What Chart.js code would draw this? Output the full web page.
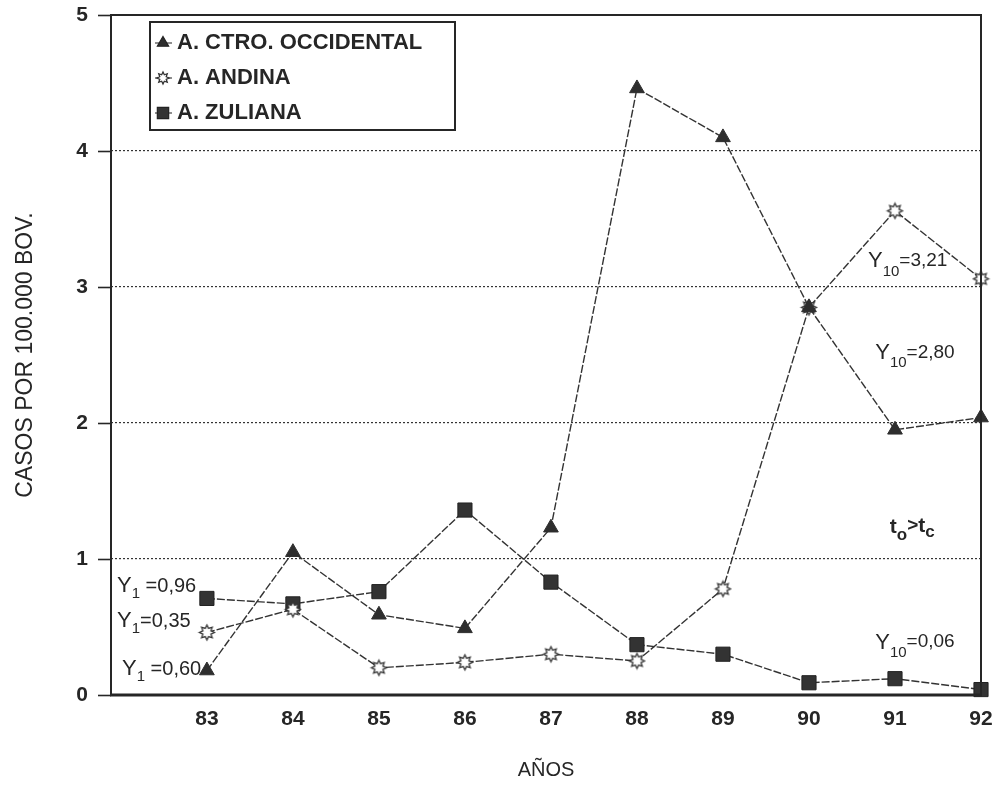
<!DOCTYPE html>
<html>
<head>
<meta charset="utf-8">
<script src="https://cdn.jsdelivr.net/npm/chart.js@4.4.1/dist/chart.umd.min.js"></script>
<style>
  html, body { margin: 0; padding: 0; background: #fff; }
  #wrap { width: 1003px; height: 785px; position: relative; }
</style>
</head>
<body>
<div id="wrap"><canvas id="c" width="1003" height="785"></canvas></div>
<script>
// Casos por 100.000 bovinos, por año y área
const years = [83, 84, 85, 86, 87, 88, 89, 90, 91, 92];
const ctroOccidental = [0.18, 1.05, 0.59, 0.49, 1.23, 4.46, 4.10, 2.85, 1.95, 2.04];
const andina = [0.46, 0.63, 0.20, 0.24, 0.30, 0.25, 0.78, 2.85, 3.56, 3.06];
const zuliana = [0.71, 0.67, 0.76, 1.36, 0.83, 0.37, 0.30, 0.09, 0.12, 0.04];
const seriesNames = ['A. CTRO. OCCIDENTAL', 'A. ANDINA', 'A. ZULIANA'];
const yTickValues = [0, 1, 2, 3, 4, 5];
const yTitle = 'CASOS POR 100.000 BOV.';
const xTitle = 'AÑOS';

// Trend notes, anchored in data units; each part: [text, fontSize, baselineShift, bold]
const notes = [
  { x: 81.955, y: 0.757, parts: [['Y', 22, 0], ['1', 15, 6], [' =0,96', 20, 0]] },
  { x: 81.955, y: 0.50,  parts: [['Y', 22, 0], ['1', 15, 6], ['=0,35', 20, 0]] },
  { x: 82.013, y: 0.147, parts: [['Y', 22, 0], ['1', 15, 6], [' =0,60', 20, 0]] },
  { x: 90.686, y: 3.15,  parts: [['Y', 22, 0], ['10', 15, 9], ['=3,21', 19, -1]] },
  { x: 90.77,  y: 2.47,  parts: [['Y', 22, 0], ['10', 15, 8], ['=2,80', 19, -1]] },
  { x: 90.94,  y: 1.19,  parts: [['t', 21, 0, true], ['o', 17, 7, true], ['>', 19, -2, true], ['t', 21, -1, true], ['c', 17, 4, true]] },
  { x: 90.77,  y: 0.34,  parts: [['Y', 22, 0], ['10', 15, 8], ['=0,06', 19, -2]] }
];

const INK = '#262626';
const FONT = '"Liberation Sans", Arial, Helvetica, sans-serif';

function starMarker(r) {
  const s = Math.ceil(r * 2 + 4);
  const c = document.createElement('canvas');
  c.width = c.height = s;
  const g = c.getContext('2d');
  const cx = s / 2, cy = s / 2;
  g.beginPath();
  for (let i = 0; i < 16; i++) {
    const a = -Math.PI / 2 + i * Math.PI / 8;
    const rr = (i % 2) ? r * 0.58 : r;
    g.lineTo(cx + rr * Math.cos(a), cy + rr * Math.sin(a));
  }
  g.closePath();
  g.fillStyle = '#fff';
  g.fill();
  g.lineWidth = 1.3;
  g.strokeStyle = '#333';
  g.stroke();
  return c;
}
const starBig = starMarker(7.5);
const starSmall = starMarker(6);

const lineStyle = { borderColor: '#333', borderWidth: 1.4, borderDash: [8, 2], tension: 0, fill: false, clip: false };

const datasets = [
  Object.assign({
    label: seriesNames[0],
    data: years.map((x, i) => ({ x, y: ctroOccidental[i] })),
    pointStyle: 'triangle', pointRadius: 8.5, pointBackgroundColor: '#2e2e2e', pointBorderColor: '#2e2e2e', pointBorderWidth: 1
  }, lineStyle),
  Object.assign({
    label: seriesNames[1],
    data: years.map((x, i) => ({ x, y: andina[i] })),
    pointStyle: starBig, pointRadius: 8
  }, lineStyle),
  Object.assign({
    label: seriesNames[2],
    data: years.map((x, i) => ({ x, y: zuliana[i] })),
    pointStyle: 'rect', pointRadius: 10, pointBackgroundColor: '#333', pointBorderColor: '#222', pointBorderWidth: 1
  }, lineStyle)
];

// Plot frame and solid y tick marks
const framePlugin = {
  id: 'frame',
  afterDatasetsDraw(chart) {
    const { ctx, chartArea: a, scales } = chart;
    ctx.save();
    ctx.strokeStyle = INK;
    ctx.setLineDash([]);
    ctx.lineWidth = 1.6;
    yTickValues.forEach(v => {
      const y = Math.round(scales.y.getPixelForValue(v)) + 0.5;
      ctx.beginPath(); ctx.moveTo(a.left - 13, y); ctx.lineTo(a.left, y); ctx.stroke();
    });
    ctx.lineWidth = 2;
    ctx.beginPath();
    ctx.moveTo(a.left, a.bottom); ctx.lineTo(a.left, a.top); ctx.lineTo(a.right, a.top); ctx.lineTo(a.right, a.bottom);
    ctx.stroke();
    ctx.lineWidth = 3;
    ctx.beginPath(); ctx.moveTo(a.left - 1, a.bottom); ctx.lineTo(a.right + 1, a.bottom); ctx.stroke();
    ctx.restore();
  }
};

// Boxed legend inside the plot, upper left
const legendPlugin = {
  id: 'boxLegend',
  afterDraw(chart) {
    const { ctx, chartArea: a } = chart;
    const left = a.left + 39, top = a.top + 7, w = 305, h = 108;
    ctx.save();
    ctx.fillStyle = '#fff';
    ctx.fillRect(left, top, w, h);
    ctx.lineWidth = 2;
    ctx.strokeStyle = INK;
    ctx.strokeRect(left, top, w, h);
    const rowY = [top + 20, top + 55, top + 90];
    const markers = [
      { pointStyle: 'triangle', radius: 6.5, fill: '#2e2e2e' },
      { pointStyle: starSmall, radius: 6, fill: '#fff' },
      { pointStyle: 'rect', radius: 8, fill: '#333' }
    ];
    chart.data.datasets.forEach((ds, i) => {
      const y = rowY[i];
      ctx.lineWidth = 1.2;
      ctx.strokeStyle = '#444';
      ctx.beginPath(); ctx.moveTo(left + 5, y + 1); ctx.lineTo(left + 22, y + 1); ctx.stroke();
      ctx.fillStyle = markers[i].fill;
      ctx.strokeStyle = '#222';
      Chart.helpers.drawPoint(ctx, { pointStyle: markers[i].pointStyle, radius: markers[i].radius, rotation: 0, borderWidth: 1 }, left + 13, y + 1);
      ctx.fillStyle = INK;
      ctx.font = 'bold 22px ' + FONT;
      ctx.textBaseline = 'middle';
      ctx.textAlign = 'left';
      ctx.fillText(ds.label, left + 27, y + 1);
    });
    ctx.restore();
  }
};

// Trend annotations with subscripts
const notesPlugin = {
  id: 'notes',
  afterDraw(chart) {
    const { ctx, scales } = chart;
    ctx.save();
    ctx.fillStyle = INK;
    ctx.textBaseline = 'alphabetic';
    ctx.textAlign = 'left';
    notes.forEach(n => {
      let x = scales.x.getPixelForValue(n.x);
      const y = scales.y.getPixelForValue(n.y);
      n.parts.forEach(p => {
        ctx.font = (p[3] ? 'bold ' : '') + p[1] + 'px ' + FONT;
        ctx.fillText(p[0], x, y + p[2]);
        x += ctx.measureText(p[0]).width;
      });
    });
    ctx.restore();
  }
};

new Chart(document.getElementById('c'), {
  type: 'line',
  data: { datasets },
  plugins: [framePlugin, legendPlugin, notesPlugin],
  options: {
    responsive: false,
    animation: false,
    devicePixelRatio: 1,
    layout: { padding: { top: 15, right: 22, left: 0, bottom: 0 } },
    plugins: { legend: { display: false }, tooltip: { enabled: false } },
    scales: {
      x: {
        type: 'linear',
        min: 81.885,
        max: 92,
        afterFit(scale) { scale.height = 90; scale.paddingLeft = 0; scale.paddingRight = 0; },
        afterBuildTicks(scale) { scale.ticks = years.map(v => ({ value: v })); },
        grid: { display: false, drawTicks: false },
        border: { display: false },
        ticks: {
          padding: 12,
          color: INK,
          font: { family: FONT, size: 21, weight: 'bold' },
          callback: v => String(v)
        },
        title: {
          display: true,
          text: xTitle,
          color: INK,
          font: { family: FONT, size: 20 },
          padding: { top: 0, bottom: 3 }
        }
      },
      y: {
        min: 0,
        max: 5,
        afterFit(scale) { scale.width = 111; scale.paddingTop = 0; scale.paddingBottom = 0; },
        afterBuildTicks(scale) { scale.ticks = yTickValues.map(v => ({ value: v })); },
        grid: {
          drawTicks: false,
          lineWidth: 1.2,
          color: ctx => (ctx.tick && (ctx.tick.value === 0 || ctx.tick.value === 5)) ? 'rgba(0,0,0,0)' : '#333'
        },
        border: { display: false, dash: [2, 2] },
        ticks: {
          padding: 23,
          color: INK,
          font: { family: FONT, size: 21, weight: 'bold' },
          callback: v => String(v)
        },
        title: {
          display: true,
          text: yTitle,
          color: INK,
          font: { family: FONT, size: 23 },
          padding: { top: 12, bottom: 0 }
        }
      }
    }
  }
});
</script>
</body>
</html>
